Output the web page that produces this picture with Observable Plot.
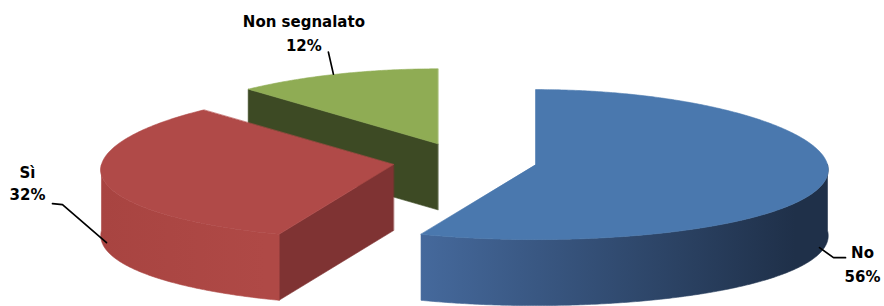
<!DOCTYPE html>
<html>
<head>
<meta charset="utf-8">
<script src="https://cdn.jsdelivr.net/npm/d3@7"></script>
<script src="https://cdn.jsdelivr.net/npm/@observablehq/plot@0.6"></script>
<style>
  html, body { margin: 0; padding: 0; background: #ffffff; }
  #chart { width: 884px; height: 306px; overflow: hidden; }
</style>
</head>
<body>
<div id="chart"></div>
<script>
// ---- data ----
const categories = ["No", "Sì", "Non segnalato"];
const values = [56, 32, 12];
const pctLabels = ["56%", "32%", "12%"];

// ---- styling / layout ----
const W = 884, H = 306;
const topColors  = ["#4A78AE", "#B04A48", "#8FAC54"];
const wallFrom   = ["#45699C", "#A84441", "#7F9A47"];
const wallTo     = ["#1F3049", "#AF4946", "#7F9A47"];
const cutColors  = ["#2B4569", "#7F3333", "#3D4A24"];
// k: mild perspective (front of the pie drawn slightly wider than the back)
const geom = {cx: 464, cy: 160.6, rx: 292, ry: 75, depth: 66, explode: 0.2476, k: 0.07};
// label placement relative to the leader anchor on the rim
const labelLayout = [
  {dx: 36.4,  dyName: 8.1,   dyPct: 32.1,  leader: [[-6.6,3],[7.4,13],[19.4,13]]},
  {dx: -75.4, dyName: -71.9, dyPct: -49.9, leader: [[3.6,-2],[-40.4,-40],[-50.4,-41]]},
  {dx: -33.5, dyName: -52.2, dyPct: -28.2, leader: [[-4,0],[-9,-22]]}
];

const arcs = d3.pie().sort(null).startAngle(0).endAngle(2 * Math.PI)(values);
const deg = Math.PI / 180;
const pt = (c, t, dz = 0) => [
  c[0] + geom.rx * Math.sin(t) * (1 - geom.k * Math.cos(t)),
  c[1] - geom.ry * Math.cos(t) + dz
];
const arcPts = (c, a0, a1, dz = 0) => {
  const n = Math.max(2, Math.ceil((a1 - a0) / (0.5 * deg)));
  return d3.range(n + 1).map(k => pt(c, a0 + (a1 - a0) * k / n, dz));
};

const slices = arcs.map((a, i) => {
  const mid = (a.startAngle + a.endAngle) / 2;
  const c = [geom.cx + geom.explode * geom.rx * Math.sin(mid),
             geom.cy - geom.explode * geom.ry * Math.cos(mid)];
  return {i, a0: a.startAngle, a1: a.endAngle, mid, c};
});

// painter's order: back slices first
const order = slices.slice().sort((p, q) => (-Math.cos(p.mid)) - (-Math.cos(q.mid)));

const polys = [];
const gradients = [];
for (const s of order) {
  const {i, a0, a1, c} = s;
  const D = geom.depth;
  // cut face at start angle (visible when it faces the viewer)
  if (Math.cos(a0 - Math.PI / 2) < -1e-6) {
    const p = pt(c, a0);
    polys.push({fill: cutColors[i], pts: [c, p, [p[0], p[1] + D], [c[0], c[1] + D]]});
  }
  // cut face at end angle
  if (Math.cos(a1 + Math.PI / 2) < -1e-6) {
    const p = pt(c, a1);
    polys.push({fill: cutColors[i], pts: [c, p, [p[0], p[1] + D], [c[0], c[1] + D]]});
  }
  // outer wall, front half only, shaded with a horizontal gradient
  const w0 = Math.max(a0, Math.PI / 2), w1 = Math.min(a1, 3 * Math.PI / 2);
  if (w1 > w0) {
    const xs = [pt(c, w0)[0], pt(c, w1)[0]];
    const xl = Math.min(...xs), xr = Math.max(...xs);
    gradients.push({id: `wall${i}`, x1: xl, x2: xl + (xr - xl) * 0.92, from: wallFrom[i], to: wallTo[i]});
    const top = arcPts(c, w0, w1);
    const bot = arcPts(c, w0, w1, D).reverse();
    polys.push({fill: `url(#wall${i})`, pts: top.concat(bot)});
  }
  // top face
  polys.push({fill: topColors[i], pts: [c].concat(arcPts(c, a0, a1))});
}

const polyRows = [];
polys.forEach((p, id) => p.pts.forEach(([x, y]) => polyRows.push({id, x, y, fill: p.fill})));

// leaders and labels
const leaderRows = [];
const labelRows = [];
slices.forEach(s => {
  const front = Math.cos(s.mid) < 0;
  const A = pt(s.c, s.mid, front ? geom.depth : 0);
  const L = labelLayout[s.i];
  L.leader.forEach(([dx, dy]) => leaderRows.push({id: s.i, x: A[0] + dx, y: A[1] + dy}));
  labelRows.push({x: A[0] + L.dx, y: A[1] + L.dyName, text: categories[s.i]});
  labelRows.push({x: A[0] + L.dx, y: A[1] + L.dyPct, text: pctLabels[s.i]});
});

// gradient definitions, placed through the plot's scales
function gradientDefs(index, scales) {
  const ns = "http://www.w3.org/2000/svg";
  const defs = document.createElementNS(ns, "defs");
  for (const g of gradients) {
    const lg = document.createElementNS(ns, "linearGradient");
    lg.setAttribute("id", g.id);
    lg.setAttribute("gradientUnits", "userSpaceOnUse");
    lg.setAttribute("x1", scales.x(g.x1));
    lg.setAttribute("x2", scales.x(g.x2));
    lg.setAttribute("y1", 0);
    lg.setAttribute("y2", 0);
    [[0, g.from], [1, g.to]].forEach(([o, col]) => {
      const st = document.createElementNS(ns, "stop");
      st.setAttribute("offset", o);
      st.setAttribute("stop-color", col);
      lg.appendChild(st);
    });
    defs.appendChild(lg);
  }
  return defs;
}

const chart = Plot.plot({
  width: W, height: H,
  margin: 0,
  style: {background: "#ffffff", fontFamily: "DejaVu Sans"},
  x: {domain: [0, W], range: [0, W], axis: null},
  y: {domain: [0, H], range: [0, H], axis: null},
  color: {type: "identity"},
  marks: [
    gradientDefs,
    Plot.line(polyRows, {x: "x", y: "y", z: "id", fill: "fill", stroke: "fill",
      strokeWidth: 0.6, curve: "linear-closed"}),
    Plot.line(leaderRows, {x: "x", y: "y", z: "id", stroke: "#000000", strokeWidth: 1.7}),
    Plot.text(labelRows, {x: "x", y: "y", text: "text", fontSize: 15, fontWeight: "bold",
      fill: "#000000", textAnchor: "middle", fontFamily: "DejaVu Sans"})
  ]
});
document.getElementById("chart").appendChild(chart);
</script>
</body>
</html>
